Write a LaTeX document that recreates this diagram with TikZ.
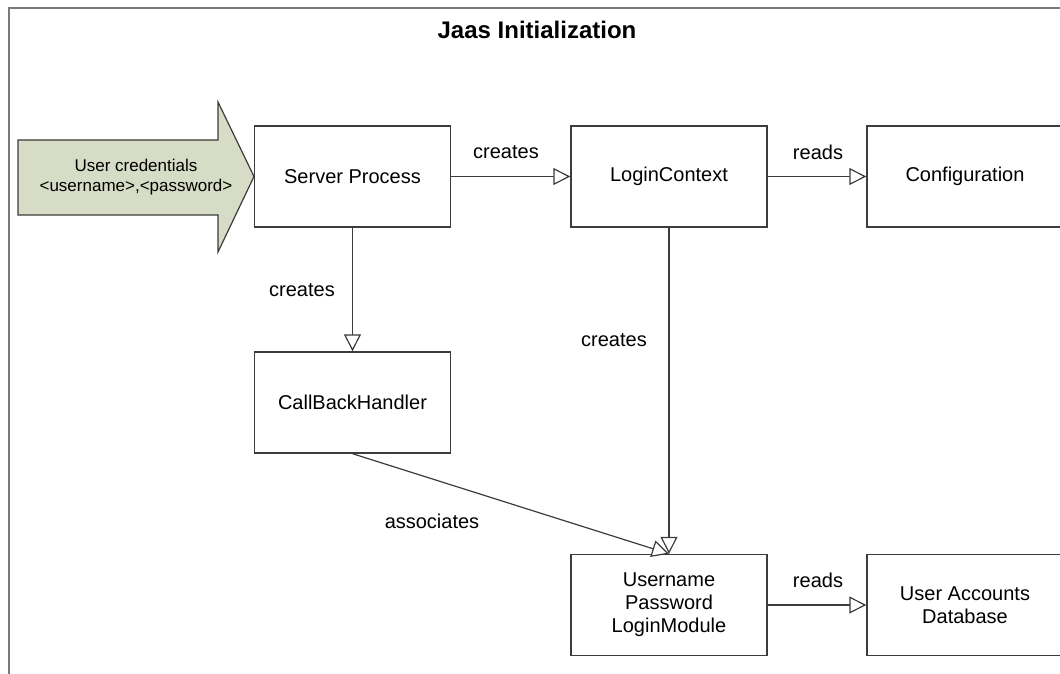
\documentclass[tikz,border=0pt]{standalone}
\usepackage{fontspec}
\setmainfont{Liberation Sans}
\usetikzlibrary{arrows.meta}
\definecolor{edge}{HTML}{3C3C3C}
\definecolor{frameline}{HTML}{7A7A7A}
\definecolor{sage}{HTML}{D6DCC5}
\begin{document}
\begin{tikzpicture}[x=1pt,y=-1pt,
  box/.style={draw=edge,line width=1.4pt,rectangle,minimum width=196pt,minimum height=101pt,
    align=center,font=\fontsize{20}{23}\selectfont,inner sep=0pt},
  rel/.style={draw=edge,line width=1.2pt,-{Triangle[length=17pt,width=17pt,fill=white,line width=1.2pt]}},
  lbl/.style={font=\fontsize{20}{23}\selectfont,inner sep=0pt}]
\useasboundingbox (0,0) rectangle (1060,674);
\clip (0,0) rectangle (1060,674);
% outer frame
\draw[frameline,line width=2pt] (9,700) -- (9,8) -- (1070,8);
\node[font=\bfseries\fontsize{24}{28}\selectfont] (title) at (537,30) {Jaas Initialization};
% incoming credentials arrow
\draw[edge,line width=1.2pt,fill=sage] (18,140) -- (218,140) -- (218,102) -- (254,176.5)
  -- (218,252) -- (218,215) -- (18,215) -- cycle;
\node[align=center,font=\fontsize{17}{20}\selectfont] (cred) at (136,177) {User credentials\\\textless username\textgreater,\textless password\textgreater};
% components
\node[box] (sp) at (352.5,176.5) {Server Process};
\node[box] (lc) at (669,176.5) {LoginContext};
\node[box] (cfg) at (965,176.5) {Configuration};
\node[box] (cbh) at (352.5,402.5) {CallBackHandler};
\node[box] (lm) at (669,605) {Username\\Password\\LoginModule};
\node[box] (db) at (965,605) {User Accounts\\Database};
% relations
\draw[rel] (sp.east) -- (lc.west);
\draw[rel] (lc.east) -- (cfg.west);
\draw[rel] (sp.south) -- (cbh.north);
\draw[rel] (lc.south) -- (lm.north);
\draw[rel] (cbh.south) -- (lm.north);
\draw[rel] (lm.east) -- (db.west);
% labels
\node[lbl] (l1) at (506,152) {creates};
\node[lbl] (l2) at (818,152) {reads};
\node[lbl] (l3) at (302,290) {creates};
\node[lbl] (l4) at (614,340) {creates};
\node[lbl] (l5) at (432,521) {associates};
\node[lbl] (l6) at (818,580) {reads};
\end{tikzpicture}
\end{document}
